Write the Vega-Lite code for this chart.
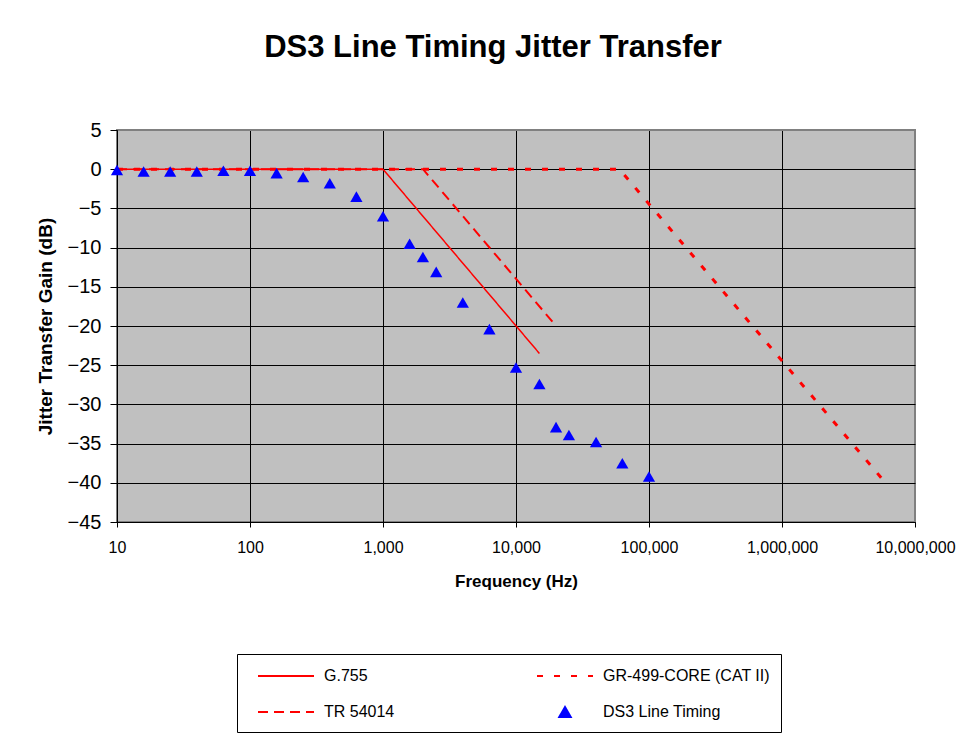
{
  "$schema": "https://vega.github.io/schema/vega-lite/v6.json",
  "width": 798,
  "height": 392,
  "autosize": {"type": "none"},
  "padding": {"left": 117, "top": 130, "right": 63, "bottom": 216},
  "background": "white",
  "title": {
    "text": "DS3 Line Timing Jitter Transfer",
    "font": "Liberation Sans",
    "fontSize": 31,
    "fontWeight": "bold",
    "color": "black",
    "anchor": "middle",
    "dx": -23,
    "offset": 56
  },
  "data": {
    "values": [
      {"series": "G.755", "freq": 10, "gain": 0},
      {"series": "G.755", "freq": 1000, "gain": 0},
      {"series": "G.755", "freq": 15000, "gain": -23.5},
      {"series": "TR 54014", "freq": 10, "gain": 0},
      {"series": "TR 54014", "freq": 2000, "gain": 0},
      {"series": "TR 54014", "freq": 20000, "gain": -20},
      {"series": "GR-499-CORE (CAT II)", "freq": 10, "gain": 0},
      {"series": "GR-499-CORE (CAT II)", "freq": 60000, "gain": 0},
      {"series": "GR-499-CORE (CAT II)", "freq": 6000000, "gain": -40},
      {"series": "DS3 Line Timing", "freq": 10, "gain": -0.1},
      {"series": "DS3 Line Timing", "freq": 15.85, "gain": -0.3},
      {"series": "DS3 Line Timing", "freq": 25.1, "gain": -0.3},
      {"series": "DS3 Line Timing", "freq": 39.8, "gain": -0.3},
      {"series": "DS3 Line Timing", "freq": 63.1, "gain": -0.2},
      {"series": "DS3 Line Timing", "freq": 100, "gain": -0.2},
      {"series": "DS3 Line Timing", "freq": 158.5, "gain": -0.5},
      {"series": "DS3 Line Timing", "freq": 251, "gain": -1.0},
      {"series": "DS3 Line Timing", "freq": 398, "gain": -1.8},
      {"series": "DS3 Line Timing", "freq": 631, "gain": -3.5},
      {"series": "DS3 Line Timing", "freq": 1000, "gain": -6.0},
      {"series": "DS3 Line Timing", "freq": 1585, "gain": -9.5},
      {"series": "DS3 Line Timing", "freq": 1995, "gain": -11.2},
      {"series": "DS3 Line Timing", "freq": 2512, "gain": -13.1},
      {"series": "DS3 Line Timing", "freq": 3981, "gain": -17.0},
      {"series": "DS3 Line Timing", "freq": 6310, "gain": -20.4},
      {"series": "DS3 Line Timing", "freq": 10000, "gain": -25.3},
      {"series": "DS3 Line Timing", "freq": 15000, "gain": -27.4},
      {"series": "DS3 Line Timing", "freq": 20000, "gain": -32.9},
      {"series": "DS3 Line Timing", "freq": 25000, "gain": -33.9},
      {"series": "DS3 Line Timing", "freq": 40000, "gain": -34.8},
      {"series": "DS3 Line Timing", "freq": 63000, "gain": -37.5},
      {"series": "DS3 Line Timing", "freq": 100000, "gain": -39.2}
    ]
  },
  "encoding": {
    "x": {
      "field": "freq",
      "type": "quantitative",
      "scale": {"type": "log", "domain": [10, 10000000]},
      "axis": {
        "title": "Frequency (Hz)",
        "values": [10, 100, 1000, 10000, 100000, 1000000, 10000000],
        "format": ",",
        "labelFontSize": 16,
        "tickSize": 5,
        "labelPadding": 12,
        "labelFlush": false,
        "labelOverlap": false,
        "titleFontSize": 17,
        "titlePadding": 18,
        "grid": true,
        "gridColor": {"condition": {"test": "datum.value === 10000000", "value": "#808080"}, "value": "black"}
      }
    },
    "y": {
      "field": "gain",
      "type": "quantitative",
      "scale": {"domain": [-45, 5], "nice": false, "zero": false},
      "axis": {
        "title": "Jitter Transfer Gain (dB)",
        "values": [-45, -40, -35, -30, -25, -20, -15, -10, -5, 0, 5],
        "labelFontSize": 20,
        "tickSize": 7,
        "labelPadding": 9,
        "titleFontSize": 19,
        "titlePadding": 12,
        "grid": true,
        "gridColor": {"condition": {"test": "datum.value === 5", "value": "#808080"}, "value": "black"}
      }
    },
    "color": {
      "field": "series",
      "type": "nominal",
      "scale": {
        "domain": ["G.755", "TR 54014", "GR-499-CORE (CAT II)", "DS3 Line Timing"],
        "range": ["#FF0000", "#FF0000", "#FF0000", "#0000FF"]
      },
      "legend": {
        "title": null,
        "orient": "none",
        "legendX": 120,
        "legendY": 524,
        "columns": 2,
        "columnPadding": 132,
        "rowPadding": 17,
        "padding": 11,
        "symbolOffset": 27,
        "strokeColor": "black",
        "fillColor": "white",
        "symbolSize": 400,
        "symbolStrokeWidth": 2,
        "labelFont": "Liberation Sans",
        "labelFontSize": 16,
        "labelColor": "black",
        "labelOffset": 27,
        "labelLimit": 0,
        "encode": {
          "symbols": {
            "update": {
              "size": {"signal": "datum.value === 'DS3 Line Timing' ? 130 : 400"}
            }
          }
        }
      }
    }
  },
  "layer": [
    {
      "transform": [{"filter": "datum.series === 'G.755'"}],
      "mark": {"type": "line", "strokeWidth": 1.5, "clip": true},
      "encoding": {
        "strokeDash": {
          "field": "series",
          "type": "nominal",
          "scale": {
            "domain": ["G.755", "TR 54014", "GR-499-CORE (CAT II)", "DS3 Line Timing"],
            "range": [[1, 0], [10, 6], [6, 11], [1, 0]]
          },
          "legend": {"title": null}
        }
      }
    },
    {
      "transform": [{"filter": "datum.series === 'TR 54014'"}],
      "mark": {"type": "line", "strokeWidth": 2, "clip": true},
      "encoding": {
        "strokeDash": {
          "field": "series",
          "type": "nominal",
          "scale": {
            "domain": ["G.755", "TR 54014", "GR-499-CORE (CAT II)", "DS3 Line Timing"],
            "range": [[1, 0], [10, 6], [6, 11], [1, 0]]
          },
          "legend": {"title": null}
        }
      }
    },
    {
      "transform": [{"filter": "datum.series === 'GR-499-CORE (CAT II)'"}],
      "mark": {"type": "line", "strokeWidth": 3, "clip": true},
      "encoding": {
        "strokeDash": {
          "field": "series",
          "type": "nominal",
          "scale": {
            "domain": ["G.755", "TR 54014", "GR-499-CORE (CAT II)", "DS3 Line Timing"],
            "range": [[1, 0], [10, 6], [6, 11], [1, 0]]
          },
          "legend": {"title": null}
        }
      }
    },
    {
      "transform": [{"filter": "datum.series === 'DS3 Line Timing'"}],
      "mark": {"type": "point", "filled": true, "opacity": 1, "size": 150},
      "encoding": {
        "shape": {
          "field": "series",
          "type": "nominal",
          "scale": {
            "domain": ["G.755", "TR 54014", "GR-499-CORE (CAT II)", "DS3 Line Timing"],
            "range": ["M-2.8,0H2.8", "M-2.8,0H2.8", "M-2.8,0H2.8", "triangle-up"]
          },
          "legend": {"title": null}
        }
      }
    }
  ],
  "config": {
    "view": {"fill": "#C0C0C0", "stroke": "#808080", "strokeWidth": 2},
    "axis": {
      "labelFont": "Liberation Sans",
      "titleFont": "Liberation Sans",
      "labelColor": "black",
      "titleColor": "black",
      "titleFontWeight": "bold",
      "domainColor": "black",
      "domainWidth": 1,
      "tickColor": "black",
      "gridOpacity": 1,
      "gridWidth": 1
    }
  }
}
